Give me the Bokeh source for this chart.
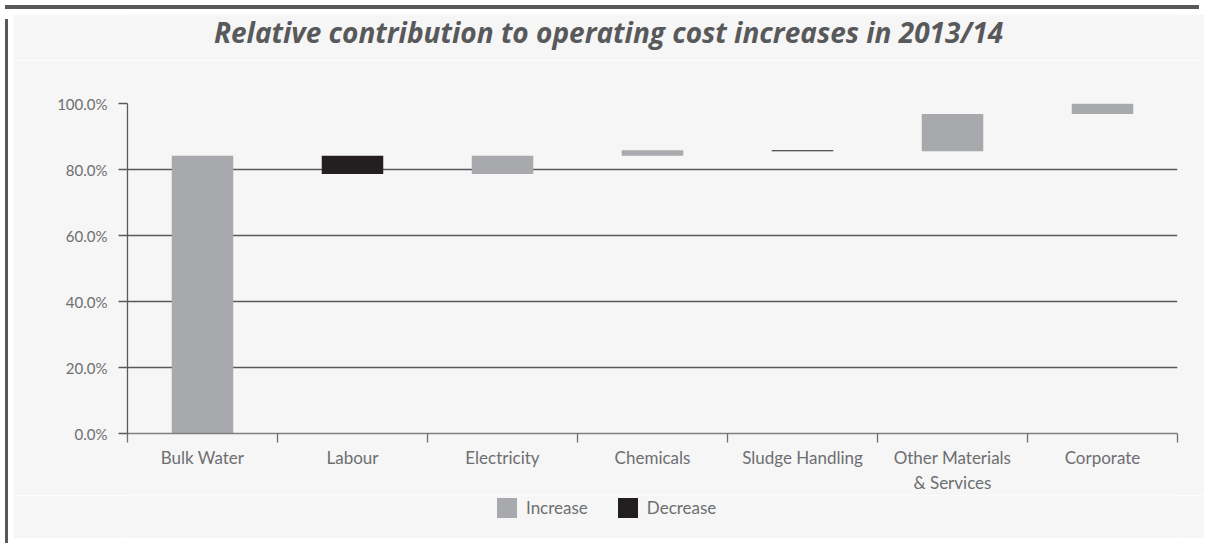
from bokeh.plotting import figure
from bokeh.models import (Range1d, FixedTicker, PrintfTickFormatter, Legend, LegendItem,
                          ColumnDataSource, Div, Label)
from bokeh.layouts import column, row
from bokeh.embed import file_html
from bokeh.resources import INLINE

# ---- data ----
categories = ["Bulk Water", "Labour", "Electricity", "Chemicals", "Sludge Handling",
              "Other Materials\n& Services", "Corporate"]
changes = [84.2, -5.6, 5.6, 1.6, -0.3, 11.3, 3.3]   # percentage points
y_ticks = [0, 20, 40, 60, 80, 100]
legend_labels = ["Increase", "Decrease"]
title_text = "Relative contribution to operating cost increases in 2013/14"

INC = "#a7a9ac"
DEC = "#231f20"
FRAME = "#58595b"
PANEL = "#f6f6f6"
TXT = "#6d6e71"

# ---- waterfall geometry from the data ----
inc = dict(x=[], top=[], bottom=[])
dec = dict(x=[], top=[], bottom=[])
level = 0.0
for i, c in enumerate(changes):
    start = level
    level = level + c
    d = inc if c >= 0 else dec
    d["x"].append(i + 0.5)
    d["top"].append(max(start, level))
    d["bottom"].append(min(start, level))


def strip(h):
    f = figure(width=1191, height=h, x_range=Range1d(0, 1050), y_range=Range1d(0, h),
               output_backend="svg", toolbar_location=None,
               min_border_left=0, min_border_right=0, min_border_top=0, min_border_bottom=0)
    f.axis.visible = False
    f.grid.visible = False
    f.outline_line_color = None
    f.background_fill_color = PANEL
    f.border_fill_color = PANEL
    f.title.visible = False
    return f


# ---- title strip ----
tf = strip(46)
tf.add_layout(Label(x=481, y=29, text=title_text, text_align="center", text_baseline="middle",
                    text_font="Open Sans", text_font_style="bold italic", text_font_size="28px",
                    text_color=FRAME))

# ---- main chart ----
p = figure(width=1191, height=435, x_range=Range1d(0, len(categories)), y_range=Range1d(0, 100),
           output_backend="svg", toolbar_location=None,
           min_border_left=114, min_border_right=27, min_border_top=43, min_border_bottom=62)
p.background_fill_color = PANEL
p.border_fill_color = PANEL
p.outline_line_color = None
p.title.visible = False

r_inc = p.vbar(x="x", top="top", bottom="bottom", width=0.41, source=ColumnDataSource(inc),
               fill_color=INC, line_color=None)
r_dec = p.vbar(x="x", top="top", bottom="bottom", width=0.41, source=ColumnDataSource(dec),
               fill_color=DEC, line_color=None)

# y axis
ya = p.yaxis[0]
ya.ticker = FixedTicker(ticks=y_ticks)
ya.formatter = PrintfTickFormatter(format="%.1f%%")
ya.axis_line_color = FRAME
ya.axis_line_width = 1.3
ya.major_tick_line_color = FRAME
ya.major_tick_line_width = 1.3
ya.major_tick_out = 9
ya.major_tick_in = 0
ya.minor_tick_line_color = None
ya.major_label_standoff = 11
ya.major_label_text_font = "Lato"
ya.major_label_text_font_size = "15px"
ya.major_label_text_color = TXT

# x axis: boundaries as minor ticks, labels at centres
xa = p.xaxis[0]
centres = [i + 0.5 for i in range(len(categories))]
xa.ticker = FixedTicker(ticks=centres, minor_ticks=list(range(len(categories) + 1)))
xa.major_label_overrides = {c: lab for c, lab in zip(centres, categories)}
xa.axis_line_color = "#808080"
xa.axis_line_width = 1.5
xa.major_tick_line_color = None
xa.major_tick_out = 0
xa.major_tick_in = 0
xa.minor_tick_line_color = "#6d6e71"
xa.minor_tick_line_width = 1.3
xa.minor_tick_out = 9
xa.minor_tick_in = 0
xa.major_label_standoff = 4
xa.major_label_text_font = "Lato"
xa.major_label_text_font_size = "17px"
xa.major_label_text_color = TXT

p.xgrid.visible = False
p.ygrid.grid_line_color = FRAME
p.ygrid.grid_line_width = 1.3

# ---- legend strip (separate small figure so the legend is not clipped) ----
lg = strip(43)
l_inc = lg.vbar(x=[-100], top=[0], width=1, fill_color=INC, line_color=None)
l_dec = lg.vbar(x=[-100], top=[0], width=1, fill_color=DEC, line_color=None)
legend = Legend(items=[LegendItem(label=legend_labels[0], renderers=[l_inc]),
                       LegendItem(label=legend_labels[1], renderers=[l_dec])],
                orientation="horizontal", location=(367, 18),
                glyph_width=25, glyph_height=25, label_standoff=7, spacing=27,
                label_text_font="Lato", label_text_font_size="17px", label_text_color=TXT,
                background_fill_alpha=0, border_line_color=None, padding=0, margin=0)
lg.add_layout(legend)

top = Div(width=1194, height=4, styles={"background-color": FRAME})
left = Div(width=3, height=524, styles={"background-color": FRAME})
bottom = Div(width=1194, height=3, styles={"background-color": FRAME})
layout = column(top, row(left, column(tf, p, lg, spacing=0), spacing=0), bottom, spacing=0)

open("out.html", "w").write(file_html(layout, INLINE))
